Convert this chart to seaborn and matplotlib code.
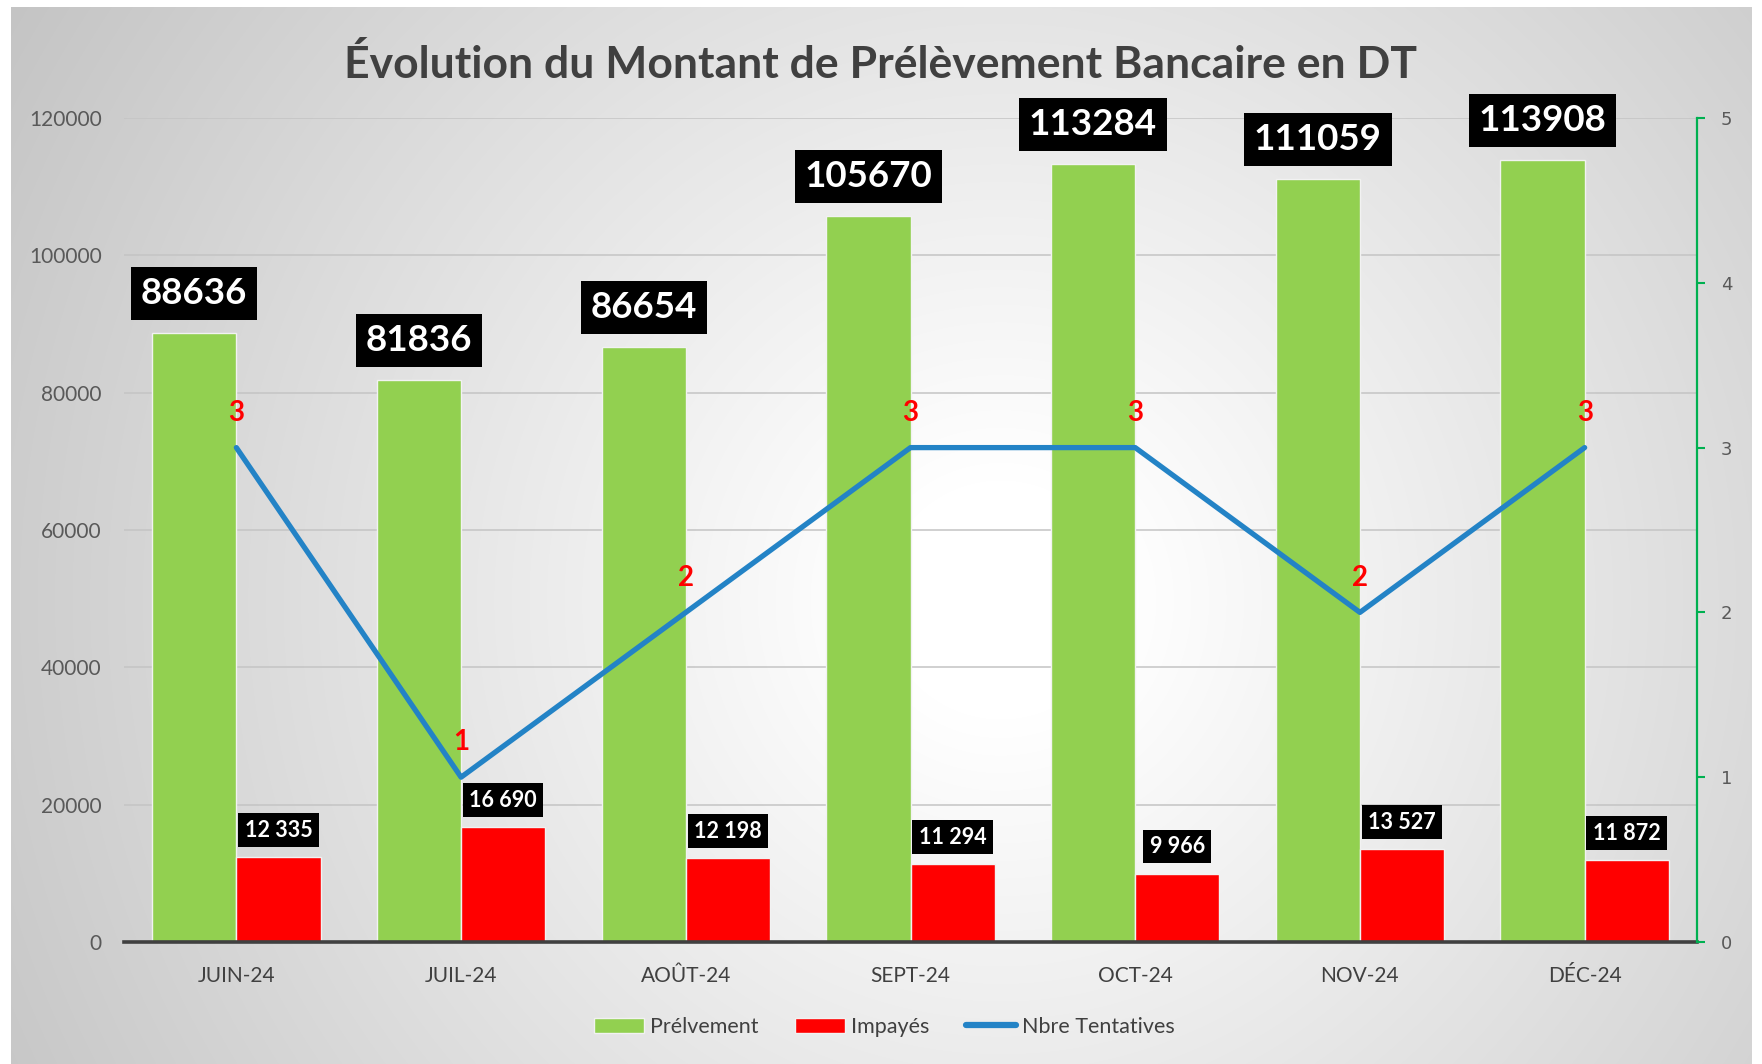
import numpy as np
import pandas as pd
import matplotlib
matplotlib.use("Agg")
import matplotlib.pyplot as plt
import seaborn as sns
from matplotlib.patches import Patch
from matplotlib.lines import Line2D

months = ['JUIN-24', 'JUIL-24', 'AOÛT-24', 'SEPT-24', 'OCT-24', 'NOV-24', 'DÉC-24']
prelevement = [88636, 81836, 86654, 105670, 113284, 111059, 113908]
impayes = [12335, 16690, 12198, 11294, 9966, 13527, 11872]
tentatives = [3, 1, 2, 3, 3, 2, 3]
series_names = ['Prélvement', 'Impayés', 'Nbre Tentatives']
left_ticks = [0, 20000, 40000, 60000, 80000, 100000, 120000]
right_ticks = [0, 1, 2, 3, 4, 5]
title = 'Évolution du Montant de Prélèvement Bancaire en DT'

GREEN = '#92D050'
RED = '#FF0000'
BLUE = '#2383C6'
AXGREEN = '#00B050'
DARK = '#404040'
TICK = '#595959'

sns.set_theme(style='white')
plt.rcParams['font.family'] = ['Lato', 'DejaVu Sans']

W, H = 1762, 1064
fig = plt.figure(figsize=(W / 100, H / 100), dpi=100)
fig.patch.set_facecolor('white')

# background radial gradient panel
bx0, bx1, by_top = 11, 1751, 7
bg = fig.add_axes([bx0 / W, 0, (bx1 - bx0) / W, (H - by_top) / H], zorder=-5)
yy, xx = np.mgrid[by_top:H, bx0:bx1]
cx, cy = 1000, 600
d = np.sqrt((xx - cx) ** 2 + (yy - cy) ** 2)
v = 1 - 0.23 * np.clip((d - 120) / 1030, 0, 1) ** 1.0
img = np.dstack([v, v, v])
bg.imshow(img, aspect='auto', interpolation='bilinear')
bg.set_axis_off()

ax_l, ax_r = 124 / W, 1697 / W
ax_b, ax_t = (H - 942) / H, (H - 118) / H
ax = fig.add_axes([ax_l, ax_b, ax_r - ax_l, ax_t - ax_b])
ax.patch.set_alpha(0)

df = pd.DataFrame({
    'Mois': months * 2,
    'Montant': prelevement + impayes,
    'Série': [series_names[0]] * len(months) + [series_names[1]] * len(months),
})
sns.barplot(data=df, x='Mois', y='Montant', hue='Série', palette=[GREEN, RED],
            width=0.75, saturation=1, ax=ax, legend=False,
            edgecolor='#f2f2f2', linewidth=1.0)

ax.set_xlim(-0.5, len(months) - 0.5)
ax.set_ylim(0, 120000)
ax.set_yticks(left_ticks)
ax.set_yticklabels([str(t) for t in left_ticks], fontsize=15, color=TICK)
ax.set_xlabel('')
ax.set_ylabel('')
ax.set_xticks(range(len(months)))
ax.set_xticklabels(months, fontsize=15, color=DARK)
ax.set_xticks(np.arange(-0.5, len(months), 1.0), minor=True)
ax.tick_params(axis='x', which='major', length=0, pad=17)
ax.tick_params(axis='x', which='minor', length=8, width=2.2, color=DARK, direction='out')
ax.tick_params(axis='y', length=0, pad=16)
ax.yaxis.grid(True, color='#c4c4c4', lw=1.1)
ax.set_axisbelow(True)
for s in ['left', 'top', 'right']:
    ax.spines[s].set_visible(False)
ax.spines['bottom'].set_color(DARK)
ax.spines['bottom'].set_linewidth(2.6)

ax2 = ax.twinx()
ax2.patch.set_alpha(0)
sns.lineplot(x=np.arange(len(months)), y=tentatives, ax=ax2, color=BLUE, lw=3.8,
             legend=False)
ax2.set_ylim(0, 5)
ax2.set_yticks(right_ticks)
ax2.set_yticklabels([str(t) for t in right_ticks], fontsize=13, color=TICK,
                    family='DejaVu Sans')
ax2.tick_params(axis='y', length=6, width=1.5, color=AXGREEN, direction='out', pad=11)
ax2.set_xlim(-0.5, len(months) - 0.5)
for s in ['left', 'top', 'bottom']:
    ax2.spines[s].set_visible(False)
ax2.spines['right'].set_color(AXGREEN)
ax2.spines['right'].set_linewidth(1.6)
ax2.set_ylabel('')

# data labels
for bar in ax.containers[0]:
    x = bar.get_x() + bar.get_width() / 2
    h = bar.get_height()
    ax2.annotate(f'{int(h)}', xy=(x, h), xycoords=ax.transData,
                 xytext=(0, 28.5), textcoords='offset points', ha='center', va='center',
                 fontsize=26.5, fontweight='bold', color='white', zorder=10,
                 bbox=dict(boxstyle='square,pad=0.27', fc='black', ec='none'))
for bar in ax.containers[1]:
    x = bar.get_x() + bar.get_width() / 2
    h = bar.get_height()
    ax2.annotate(f'{int(h):,}'.replace(',', ' '), xy=(x, h), xycoords=ax.transData,
                 xytext=(0, 19.5), textcoords='offset points', ha='center', va='center',
                 fontsize=15.5, fontweight='bold', color='white', zorder=10,
                 bbox=dict(boxstyle='square,pad=0.3', fc='black', ec='none'))
for i, t in enumerate(tentatives):
    ax2.annotate(str(t), xy=(i, t), xytext=(0, 25), textcoords='offset points',
                 ha='center', va='center', fontsize=20, fontweight='bold', color=RED,
                 zorder=11)

fig.text(0.5, 1 - 65 / H, title, ha='center', va='center', fontsize=32,
         fontweight='bold', color=DARK)

handles = [Patch(facecolor=GREEN, edgecolor='#f2f2f2'),
           Patch(facecolor=RED, edgecolor='#f2f2f2'),
           Line2D([0], [0], color=BLUE, lw=4.5)]
fig.legend(handles, series_names, loc='center', bbox_to_anchor=(0.502, 0.035),
           ncol=3, frameon=False, fontsize=15.5, handlelength=2.3, handleheight=0.7,
           handletextpad=0.3, columnspacing=1.7, labelcolor=DARK)

fig.savefig('out.png', dpi=100)
